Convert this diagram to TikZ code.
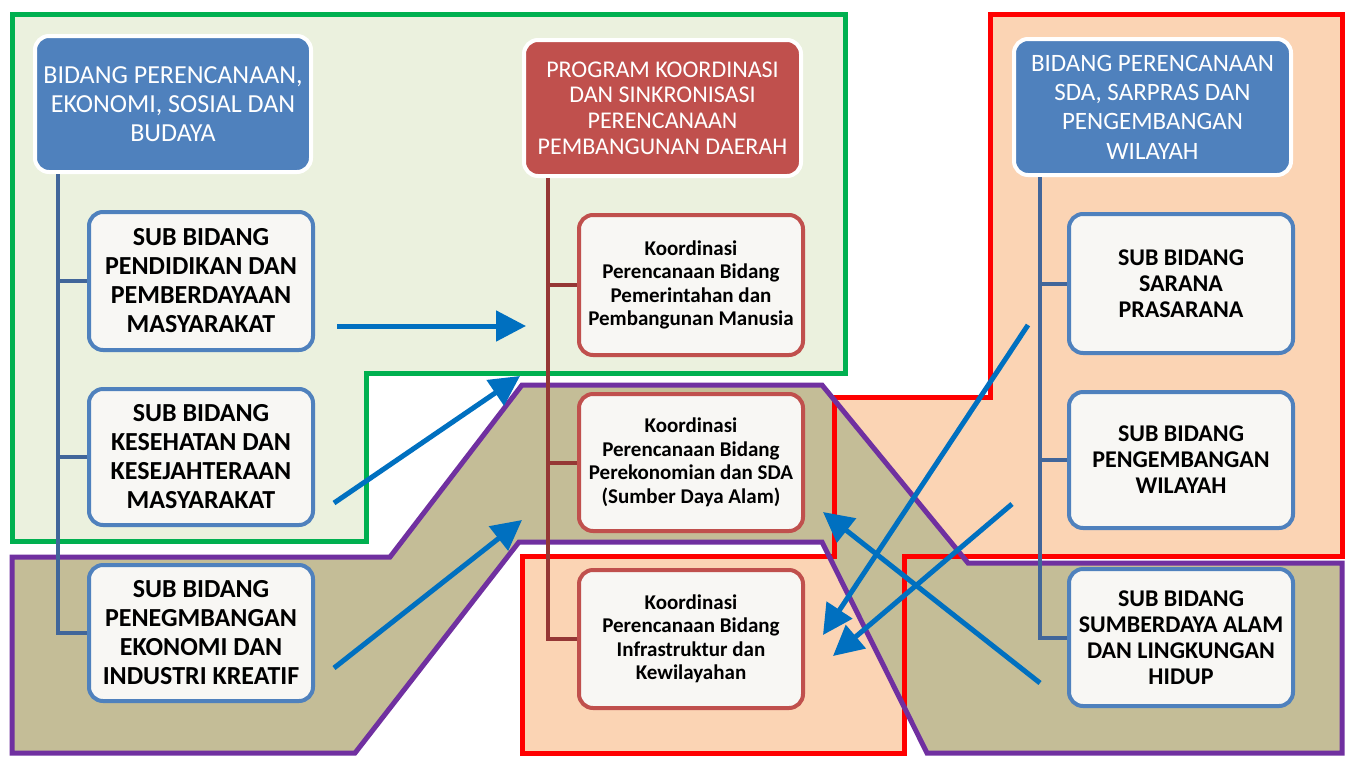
\documentclass[tikz,border=0pt]{standalone}
\usepackage{fontspec}
\setmainfont{Carlito}
\usetikzlibrary{arrows.meta}
\definecolor{gfill}{HTML}{EBF1DE}
\definecolor{gline}{HTML}{00B050}
\definecolor{pfill}{HTML}{FBD4B4}
\definecolor{rline}{HTML}{FF0000}
\definecolor{tfill}{HTML}{C4BD97}
\definecolor{vline}{HTML}{7030A0}
\definecolor{hblue}{HTML}{4F81BD}
\definecolor{hred}{HTML}{C0504D}
\definecolor{treeb}{HTML}{41669A}
\definecolor{treer}{HTML}{953735}
\definecolor{arr}{HTML}{0070C0}
\definecolor{boxfill}{HTML}{F8F7F4}
\begin{document}
\begin{tikzpicture}[x=1pt,y=-1pt,
  hdr/.style={rounded corners=14pt, draw=white, line width=4pt, text=white, align=center, inner sep=0pt},
  hdrL/.style={hdr, fill=hblue, minimum width=276pt, minimum height=136pt, font=\fontsize{26}{29}\selectfont},
  hdrR/.style={hdr, fill=hblue, minimum width=277pt, minimum height=136pt, font=\fontsize{25}{29.3}\selectfont},
  hdrC/.style={hdr, fill=hred, minimum width=277pt, minimum height=136pt, font=\fontsize{24}{25.8}\selectfont},
  subb/.style={rounded corners=14pt, draw=hblue, line width=4pt, fill=boxfill, align=center, inner sep=0pt, minimum width=224pt, text=black},
  subL/.style={subb, font=\bfseries\fontsize{26}{29}\selectfont},
  subR/.style={subb, font=\bfseries\fontsize{24}{26}\selectfont},
  subC/.style={subb, draw=hred, font=\bfseries\fontsize{21}{23.5}\selectfont},
  treeB/.style={draw=treeb, line width=4pt},
  treeC/.style={draw=treer, line width=4pt},
  arrw/.style={draw=arr, line width=5pt, -{Triangle[length=30pt,width=30pt]}},
  gframe/.style={draw=gline, line width=5pt, fill=gfill},
  rframe/.style={draw=rline, line width=5pt},
  vframe/.style={draw=vline, line width=5pt}
]
\useasboundingbox[fill=white] (0,0) rectangle (1348,758);

% green region
\path[gframe] (12,14) -- (845,14) -- (845,373) -- (366,373) -- (366,541) -- (12,541) -- cycle;
% red region fill
\fill[pfill] (990,14) -- (1342,14) -- (1342,556) -- (904,556) -- (904,753) -- (522,753) -- (522,556) -- (834,556) -- (834,397) -- (990,397) -- cycle;
% purple region fill
\fill[tfill] (12,557) -- (390,557) -- (522,385) -- (822,385) -- (968,563) -- (1342,563) -- (1342,753) -- (927,753) -- (822,542) -- (519,542) -- (355,753) -- (12,753) -- cycle;
% red outline
\draw[rframe] (990,14) -- (1342,14) -- (1342,556) -- (904,556) -- (904,753) -- (522,753) -- (522,556) -- (834,556) -- (834,397) -- (990,397) -- cycle;
% purple outline
\draw[vframe] (12,557) -- (390,557) -- (522,385) -- (822,385) -- (968,563) -- (1342,563) -- (1342,753) -- (927,753) -- (822,542) -- (519,542) -- (355,753) -- (12,753) -- cycle;

% headers
\node[hdrL] (hL) at (173,104) {BIDANG PERENCANAAN,\\EKONOMI, SOSIAL DAN\\BUDAYA};
\node[hdrC] (hC) at (662.5,108) {PROGRAM KOORDINASI\\DAN SINKRONISASI\\PERENCANAAN\\PEMBANGUNAN DAERAH};
\node[hdrR] (hR) at (1152.5,107) {BIDANG PERENCANAAN\\SDA, SARPRAS DAN\\PENGEMBANGAN\\WILAYAH};

% left sub boxes
\node[subL, minimum height=138pt] (L1) at (201,281) {SUB BIDANG\\PENDIDIKAN DAN\\PEMBERDAYAAN\\MASYARAKAT};
\node[subL, minimum height=136pt] (L2) at (201,457) {SUB BIDANG\\KESEHATAN DAN\\KESEJAHTERAAN\\MASYARAKAT};
\node[subL, minimum height=136pt] (L3) at (201,633) {SUB BIDANG\\PENEGMBANGAN\\EKONOMI DAN\\INDUSTRI KREATIF};

% center boxes
\node[subC, minimum height=140pt] (C1) at (691,285) {Koordinasi\\Perencanaan Bidang\\Pemerintahan dan\\Pembangunan Manusia};
\node[subC, minimum height=137pt] (C2) at (691,462.5) {Koordinasi\\Perencanaan Bidang\\Perekonomian dan SDA\\(Sumber Daya Alam)};
\node[subC, minimum height=138pt] (C3) at (691,639) {Koordinasi\\Perencanaan Bidang\\Infrastruktur dan\\Kewilayahan};

% right boxes
\node[subR, minimum height=139pt] (R1) at (1181,283.5) {SUB BIDANG\\SARANA\\PRASARANA};
\node[subR, minimum height=136pt] (R2) at (1181,460) {SUB BIDANG\\PENGEMBANGAN\\WILAYAH};
\node[subR, minimum height=137pt] (R3) at (1181,637.5) {SUB BIDANG\\SUMBERDAYA ALAM\\DAN LINGKUNGAN\\HIDUP};

% trees
\coordinate (tL) at ([xshift=25pt]hL.south west);
\coordinate (tC) at ([xshift=26pt]hC.south west);
\coordinate (tR) at ([xshift=28pt]hR.south west);
\draw[treeB] (tL) |- (L3.west);
\draw[treeB] (tL |- L1.west) -- (L1.west);
\draw[treeB] (tL |- L2.west) -- (L2.west);
\draw[treeC] (tC) |- (C3.west);
\draw[treeC] (tC |- C1.west) -- (C1.west);
\draw[treeC] (tC |- C2.west) -- (C2.west);
\draw[treeB] (tR) |- (R3.west);
\draw[treeB] (tR |- R1.west) -- (R1.west);
\draw[treeB] (tR |- R2.west) -- (R2.west);

% arrows
\coordinate (a1s) at (337,326); \coordinate (a1e) at (526,326);
\coordinate (a2s) at (334,503); \coordinate (a2e) at (520,376);
\coordinate (a3s) at (334,668); \coordinate (a3e) at (522,520);
\coordinate (a4s) at (1028,325); \coordinate (a4e) at (823,635);
\coordinate (a5s) at (1012,504); \coordinate (a5e) at (833,656);
\coordinate (a6s) at (1040,683); \coordinate (a6e) at (823,512);
\draw[arrw] (a1s) -- (a1e);
\draw[arrw] (a2s) -- (a2e);
\draw[arrw] (a3s) -- (a3e);
\draw[arrw] (a4s) -- (a4e);
\draw[arrw] (a5s) -- (a5e);
\draw[arrw] (a6s) -- (a6e);
\end{tikzpicture}
\end{document}
